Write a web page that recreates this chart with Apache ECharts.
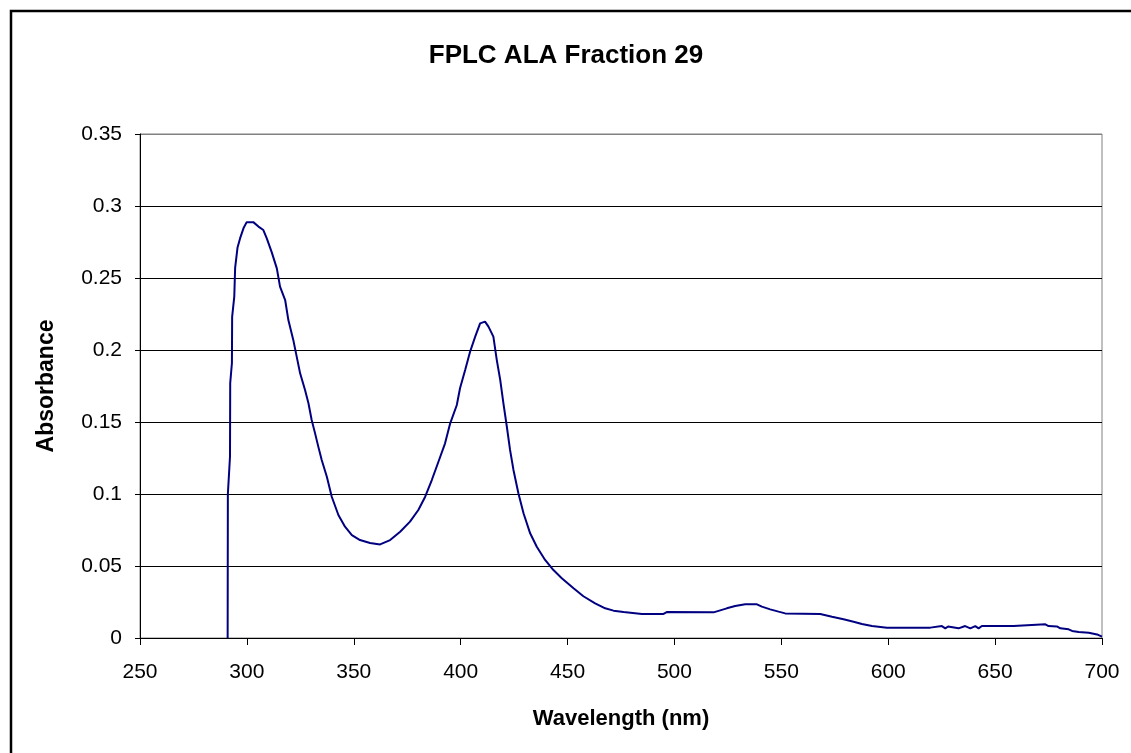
<!DOCTYPE html>
<html>
<head>
<meta charset="utf-8">
<script src="https://cdn.jsdelivr.net/npm/echarts@6/dist/echarts.min.js"></script>
<style>
html,body{margin:0;padding:0;background:#fff;}
#chart{width:1131px;height:753px;}
</style>
</head>
<body>
<div id="chart"></div>
<script>
const chartTitle = "FPLC ALA Fraction 29";
const xAxisTitle = "Wavelength (nm)";
const yAxisTitle = "Absorbance";

const wavelength = [
  291.0, 291.1, 292.1, 292.2, 293.0, 293.1, 294.1, 294.5, 295.6, 296.8,
  298.4, 299.9, 303.0, 305.4, 307.7, 309.3, 311.6, 314.0, 315.5, 317.9,
  319.4, 321.7, 323.3, 324.9, 327.2, 328.8, 330.3, 331.9, 333.4, 335.0,
  337.4, 339.7, 342.8, 345.9, 349.1, 352.9, 357.6, 362.3, 367.0, 371.7,
  376.3, 380.2, 383.4, 386.5, 389.6, 392.7, 395.1, 398.2, 399.7, 402.1,
  404.4, 406.8, 409.1, 411.4, 413.0, 415.3, 416.9, 418.5, 420.0, 421.6,
  423.1, 424.7, 427.0, 429.4, 432.5, 435.6, 439.5, 443.4, 447.3, 452.8,
  457.4, 462.9, 467.6, 471.5, 476.2, 484.8, 494.9, 496.4, 518.3, 518.4,
  524.5, 528.4, 533.1, 538.6, 540.9, 544.8, 548.7, 551.8, 568.2, 573.7,
  579.1, 583.8, 587.7, 592.4, 599.4, 619.7, 620.4, 625.1, 626.7, 628.0,
  632.9, 636.0, 638.4, 640.7, 642.3, 643.8, 658.6, 659.4, 673.5, 675.0,
  678.9, 680.5, 684.4, 686.0, 689.1, 693.8, 694.5, 697.7, 700.0
];
const absorbance = [
  0.0, 0.100, 0.126, 0.177, 0.191, 0.223, 0.237, 0.257, 0.271, 0.2775,
  0.2845, 0.2888, 0.2888, 0.2857, 0.2833, 0.2775, 0.268, 0.2567, 0.244, 0.2347,
  0.2208, 0.207, 0.1954, 0.1838, 0.1722, 0.163, 0.1514, 0.1421, 0.1329, 0.1236,
  0.112, 0.0981, 0.0854, 0.0773, 0.0715, 0.068, 0.066, 0.065, 0.068, 0.0738,
  0.0808, 0.0889, 0.0981, 0.1097, 0.1224, 0.1352, 0.1491, 0.1618, 0.1734, 0.1861,
  0.1988, 0.2093, 0.2185, 0.2197, 0.2162, 0.2093, 0.193, 0.1792, 0.163, 0.1467,
  0.1306, 0.1167, 0.1005, 0.0866, 0.0727, 0.0634, 0.0542, 0.0472, 0.0415, 0.0345,
  0.029, 0.0241, 0.0206, 0.019, 0.018, 0.0167, 0.0167, 0.018, 0.0178, 0.019,
  0.0206, 0.0222, 0.0234, 0.0234, 0.0218, 0.0199, 0.0183, 0.0171, 0.0167, 0.0148,
  0.013, 0.0113, 0.0097, 0.0083, 0.0072, 0.0072, 0.0083, 0.0083, 0.0067, 0.008,
  0.0067, 0.0083, 0.0067, 0.0083, 0.0067, 0.0083, 0.0083, 0.0095, 0.0095, 0.0083,
  0.008, 0.0067, 0.006, 0.0049, 0.0042, 0.0037, 0.0025, 0.0025, 0.0009
];

const seriesData = wavelength.map((w, i) => [w, absorbance[i]]);

const chart = echarts.init(document.getElementById('chart'), null, {renderer: 'canvas'});
const font = 'Arial, "Liberation Sans", sans-serif';
chart.setOption({
  animation: false,
  backgroundColor: '#ffffff',
  title: {
    text: chartTitle,
    left: 561, top: 38, textAlign: 'center',
    textStyle: {fontFamily: font, fontSize: 26, fontWeight: 'bold', color: '#000'}
  },
  graphic: [{
    type: 'rect',
    shape: {x: 11, y: 11, width: 1300, height: 900},
    style: {fill: null, stroke: '#000', lineWidth: 2.5},
    silent: true, z: 100
  }],
  grid: {
    left: 140, right: 29, top: 134, bottom: 115,
    show: true, borderColor: '#808080', borderWidth: 1, backgroundColor: 'transparent'
  },
  xAxis: {
    type: 'value', min: 250, max: 700, interval: 50,
    name: xAxisTitle, nameLocation: 'middle', nameGap: 70,
    nameTextStyle: {fontFamily: font, fontSize: 22, fontWeight: 'bold', color: '#000'},
    axisLine: {show: true, onZero: false, lineStyle: {color: '#000', width: 1}},
    axisTick: {show: true, inside: false, length: 7, lineStyle: {color: '#000'}},
    axisLabel: {fontFamily: font, fontSize: 21, color: '#000', margin: 24},
    splitLine: {show: false}
  },
  yAxis: {
    type: 'value', min: 0, max: 0.35, interval: 0.05,
    name: yAxisTitle, nameLocation: 'middle', nameGap: 82, nameRotate: 90,
    nameTextStyle: {fontFamily: font, fontSize: 23, fontWeight: 'bold', color: '#000'},
    axisLine: {show: true, lineStyle: {color: '#000', width: 1}},
    axisTick: {show: true, inside: false, length: 5, lineStyle: {color: '#000'}},
    axisLabel: {fontFamily: font, fontSize: 21, color: '#000', margin: 18},
    splitLine: {show: true, lineStyle: {color: ['#000','#000','#000','#000','#000','#000','#000','#808080'], width: 1}}
  },
  series: [{
    type: 'line',
    data: seriesData,
    showSymbol: false,
    lineStyle: {color: '#000080', width: 2},
    clip: true
  }]
});
</script>
</body>
</html>
